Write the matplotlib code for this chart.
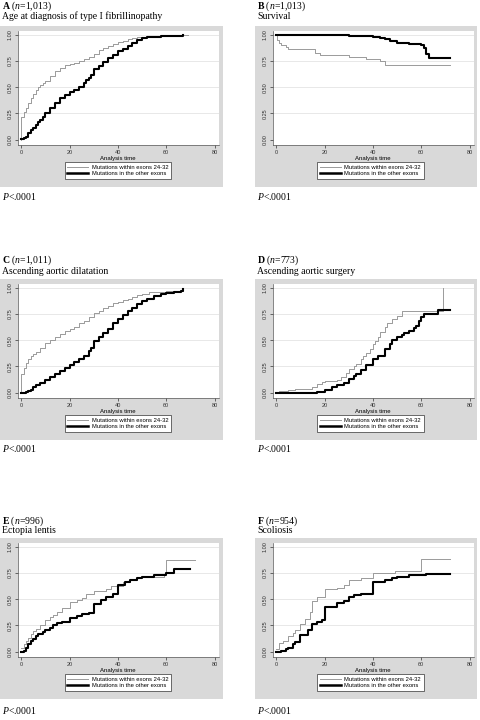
import matplotlib
matplotlib.use("Agg")
import matplotlib.pyplot as plt
from matplotlib.patches import Rectangle
from matplotlib.lines import Line2D

plt.rcParams['mathtext.fontset'] = 'custom'
plt.rcParams['mathtext.rm'] = 'Liberation Serif'
plt.rcParams['mathtext.it'] = 'Liberation Serif:italic'
plt.rcParams['mathtext.bf'] = 'Liberation Serif:bold'

# ---------------- data ----------------
panel_letters = ["A", "B", "C", "D", "E", "F"]
panel_n = ["1,013", "1,013", "1,011", "773", "996", "954"]
panel_titles = ["Age at diagnosis of type I fibrillinopathy", "Survival",
                "Ascending aortic dilatation", "Ascending aortic surgery",
                "Ectopia lentis", "Scoliosis"]
p_text = "<.0001"
legend_labels = ["Mutations within exons 24-32", "Mutations in the other exons"]
x_ticks = [0, 20, 40, 60, 80]
y_ticks = [0.0, 0.25, 0.5, 0.75, 1.0]
y_tick_labels = ["0.00", "0.25", "0.50", "0.75", "1.00"]

# Panel A
a_in_t = [0, 0, 1, 2, 3, 4, 5, 6, 7, 8, 9, 10, 12, 14, 16, 18, 20, 22, 24, 26, 28, 30,
          32, 34, 36, 38, 40, 42, 44, 46, 48, 50, 52, 55, 58, 62, 66, 69]
a_in_y = [0, 0.22, 0.26, 0.30, 0.35, 0.40, 0.44, 0.47, 0.50, 0.52, 0.54, 0.56, 0.61, 0.65,
          0.68, 0.71, 0.72, 0.73, 0.75, 0.77, 0.79, 0.82, 0.85, 0.87, 0.89, 0.91, 0.93,
          0.94, 0.96, 0.97, 0.975, 0.98, 0.985, 0.99, 0.995, 0.997, 1.0, 1.0]
a_out_t = [0, 1, 2, 3, 4, 5, 6, 7, 8, 9, 10, 12, 14, 16, 18, 20, 22, 24, 26, 27, 28, 29, 30,
           32, 34, 36, 38, 40, 42, 44, 46, 48, 50, 52, 55, 58, 62, 67]
a_out_y = [0.01, 0.02, 0.03, 0.06, 0.09, 0.11, 0.14, 0.17, 0.19, 0.22, 0.25, 0.30, 0.35,
           0.40, 0.43, 0.45, 0.47, 0.50, 0.54, 0.57, 0.59, 0.62, 0.67, 0.70, 0.74, 0.78,
           0.81, 0.84, 0.86, 0.89, 0.92, 0.95, 0.97, 0.975, 0.98, 0.985, 0.99, 1.0]

# Panel B
b_in_t = [0, 0.5, 1, 2, 4, 5, 16, 18, 30, 37, 43, 45, 72]
b_in_y = [1.0, 0.95, 0.92, 0.90, 0.88, 0.86, 0.83, 0.81, 0.79, 0.77, 0.75, 0.71, 0.71]
b_out_t = [0, 20, 25, 30, 35, 40, 43, 45, 47, 50, 55, 60, 61, 62, 63, 72]
b_out_y = [1.0, 1.0, 0.995, 0.99, 0.985, 0.975, 0.97, 0.96, 0.94, 0.92, 0.915, 0.905,
           0.87, 0.82, 0.78, 0.78]

# Panel C
c_in_t = [0, 0, 1, 2, 3, 4, 5, 6, 8, 10, 12, 14, 16, 18, 20, 22, 24, 26, 28, 30, 32, 34,
          36, 38, 40, 42, 44, 46, 48, 50, 53, 56, 60, 65, 67]
c_in_y = [0, 0.18, 0.24, 0.28, 0.32, 0.35, 0.37, 0.39, 0.43, 0.47, 0.50, 0.53, 0.56, 0.59,
          0.61, 0.63, 0.66, 0.68, 0.72, 0.76, 0.78, 0.81, 0.83, 0.85, 0.86, 0.88, 0.89,
          0.91, 0.93, 0.94, 0.96, 0.96, 0.965, 0.97, 0.97]
c_out_t = [0, 2, 3, 4, 5, 6, 8, 10, 12, 14, 16, 18, 20, 22, 24, 26, 28, 29, 30, 32, 34,
           36, 38, 40, 42, 44, 46, 48, 50, 52, 55, 58, 60, 63, 66, 67]
c_out_y = [0.0, 0.01, 0.02, 0.03, 0.05, 0.07, 0.09, 0.12, 0.15, 0.18, 0.21, 0.24, 0.26,
           0.29, 0.32, 0.35, 0.40, 0.43, 0.49, 0.53, 0.57, 0.61, 0.66, 0.70, 0.74, 0.78,
           0.81, 0.84, 0.87, 0.89, 0.92, 0.94, 0.95, 0.96, 0.965, 0.99]

# Panel D
d_in_t = [0, 1, 5, 8, 15, 17, 19, 20, 25, 27, 29, 30, 32, 33, 35, 36, 37, 39, 40, 41, 42,
          43, 45, 46, 48, 50, 52, 68, 69]
d_in_y = [0.01, 0.02, 0.03, 0.04, 0.05, 0.08, 0.10, 0.11, 0.12, 0.15, 0.19, 0.23, 0.25,
          0.27, 0.32, 0.35, 0.38, 0.42, 0.46, 0.49, 0.53, 0.58, 0.63, 0.66, 0.70, 0.73,
          0.78, 0.78, 1.0]
d_out_t = [0, 15, 17, 20, 23, 25, 28, 30, 32, 33, 35, 37, 40, 42, 45, 47, 48, 50, 52, 53,
           55, 57, 58, 59, 60, 61, 66, 67, 72]
d_out_y = [0.0, 0.0, 0.01, 0.03, 0.05, 0.07, 0.09, 0.13, 0.16, 0.18, 0.22, 0.26, 0.32,
           0.35, 0.42, 0.46, 0.50, 0.53, 0.55, 0.57, 0.59, 0.62, 0.64, 0.68, 0.72, 0.75,
           0.75, 0.79, 0.79]

# Panel E
e_in_t = [0, 1, 2, 3, 4, 5, 6, 8, 10, 12, 13, 15, 17, 20, 23, 25, 27, 30, 35, 37, 40, 42,
          45, 48, 59, 60, 72]
e_in_y = [0.04, 0.07, 0.10, 0.13, 0.17, 0.20, 0.22, 0.25, 0.30, 0.33, 0.35, 0.38, 0.42,
          0.47, 0.49, 0.51, 0.55, 0.58, 0.60, 0.63, 0.63, 0.66, 0.68, 0.71, 0.74, 0.87,
          0.87]
e_out_t = [0, 1, 2, 3, 4, 5, 6, 7, 9, 10, 12, 13, 15, 17, 20, 23, 25, 28, 30, 33, 35, 38,
           40, 43, 45, 48, 50, 55, 60, 63, 70]
e_out_y = [0.0, 0.01, 0.04, 0.07, 0.10, 0.12, 0.15, 0.17, 0.19, 0.21, 0.23, 0.25, 0.27,
           0.28, 0.32, 0.34, 0.36, 0.37, 0.45, 0.49, 0.52, 0.55, 0.64, 0.66, 0.68, 0.70,
           0.71, 0.73, 0.75, 0.79, 0.79]

# Panel F
f_in_t = [0, 1, 3, 5, 7, 8, 10, 12, 14, 15, 17, 20, 25, 28, 30, 35, 40, 49, 60, 72]
f_in_y = [0.03, 0.08, 0.10, 0.15, 0.18, 0.21, 0.26, 0.31, 0.38, 0.48, 0.52, 0.60, 0.61,
          0.64, 0.68, 0.70, 0.75, 0.77, 0.88, 0.88]
f_out_t = [0, 2, 4, 5, 7, 8, 10, 13, 15, 17, 19, 20, 25, 28, 30, 32, 35, 40, 45, 48, 50,
           55, 62, 72]
f_out_y = [0.0, 0.01, 0.03, 0.04, 0.07, 0.09, 0.16, 0.21, 0.26, 0.28, 0.30, 0.43, 0.46,
           0.48, 0.52, 0.54, 0.55, 0.66, 0.68, 0.70, 0.71, 0.73, 0.74, 0.74]

curves_in = [(a_in_t, a_in_y), (b_in_t, b_in_y), (c_in_t, c_in_y),
             (d_in_t, d_in_y), (e_in_t, e_in_y), (f_in_t, f_in_y)]
curves_out = [(a_out_t, a_out_y), (b_out_t, b_out_y), (c_out_t, c_out_y),
              (d_out_t, d_out_y), (e_out_t, e_out_y), (f_out_t, f_out_y)]

# ---------------- layout ----------------
W, H = 480, 720
fig = plt.figure(figsize=(W / 100, H / 100), dpi=100)
fig.patch.set_facecolor("white")

def fx(px):
    return px / W

def fy(py):
    return 1 - py / H

gray_lefts = [0, 255]
gray_tops = [26, 279, 538]
title_off = [(-17.7, -6.7), (-16.7, -4.7), (-14.7, -4.7)]
p_off = [13, 12, 15]

GRAY_BG = "#d9d9d9"
sans = "Liberation Sans"
serif = "Liberation Serif"
TFS = 7.0

for i in range(6):
    row, col = divmod(i, 2)
    gl = gray_lefts[col]
    gt = gray_tops[row]
    gw = 223 if col == 0 else 222
    gh = 161
    # gray graph region
    fig.patches.append(Rectangle((fx(gl), fy(gt + gh)), gw / W, gh / H,
                                 transform=fig.transFigure, facecolor=GRAY_BG,
                                 edgecolor="none", zorder=-10))
    # titles
    tx = gl + 2
    fig.text(fx(tx), fy(gt + title_off[row][0]),
             r"$\mathbf{%s}$ ($\mathit{n}$=%s)" % (panel_letters[i], panel_n[i]),
             fontfamily=serif, fontsize=TFS, va="baseline", ha="left")
    fig.text(fx(tx), fy(gt + title_off[row][1]), panel_titles[i],
             fontfamily=serif, fontsize=TFS, va="baseline", ha="left")
    fig.text(fx(tx), fy(gt + gh + p_off[row]), r"$\mathit{P}$" + p_text,
             fontfamily=serif, fontsize=TFS, va="baseline", ha="left")

    # plot region
    al = gl + 17.5
    ar = gl + 218.5
    at = gt + 5
    ab = gt + 119
    ax = fig.add_axes([fx(al), fy(ab), (ar - al) / W, (ab - at) / H])
    ax.set_zorder(1)
    ax.set_facecolor("white")
    ax.set_xlim(-1.5, 81.6)
    ax.set_ylim(-0.05, 1.035)
    for yv in y_ticks[1:]:
        ax.axhline(yv, color="#e4e4e4", lw=0.6, zorder=1)
    ti, yi = curves_in[i]
    to, yo = curves_out[i]
    ax.plot(ti, yi, drawstyle="steps-post", color="#9a9a9a", lw=0.7, zorder=3)
    ax.plot(to, yo, drawstyle="steps-post", color="black", lw=1.5, zorder=4)
    ax.set_xticks(x_ticks)
    ax.set_xticklabels([str(v) for v in x_ticks], fontfamily=sans)
    ax.set_yticks(y_ticks)
    ax.set_yticklabels(y_tick_labels, rotation=90, va="center", fontfamily=sans)
    ax.tick_params(axis="both", labelsize=4, length=2, width=0.5, pad=1.5,
                   colors="#333333")
    ax.set_xlabel("Analysis time", fontsize=4.3, fontfamily=sans, labelpad=0.5)
    for s in ["top", "right"]:
        ax.spines[s].set_visible(False)
    for s in ["left", "bottom"]:
        ax.spines[s].set_color("#555555")
        ax.spines[s].set_linewidth(0.5)

    handles = [Line2D([], [], color="#9a9a9a", lw=0.7),
               Line2D([], [], color="black", lw=1.8)]
    leg = ax.legend(handles, legend_labels, loc="center",
                    bbox_to_anchor=(fx(gl + 118 - (0 if col == 0 else 2.5)), fy(gt + 144.5)),
                    bbox_transform=fig.transFigure, prop={"family": sans, "size": 4.2},
                    frameon=True, fancybox=False, edgecolor="#333333", framealpha=1,
                    handlelength=3.6, handletextpad=0.6, borderpad=0.45,
                    labelspacing=0.25, borderaxespad=0)
    leg.get_frame().set_linewidth(0.5)
    leg.set_clip_on(False)

fig.savefig("out.png", dpi=100, facecolor="white")
